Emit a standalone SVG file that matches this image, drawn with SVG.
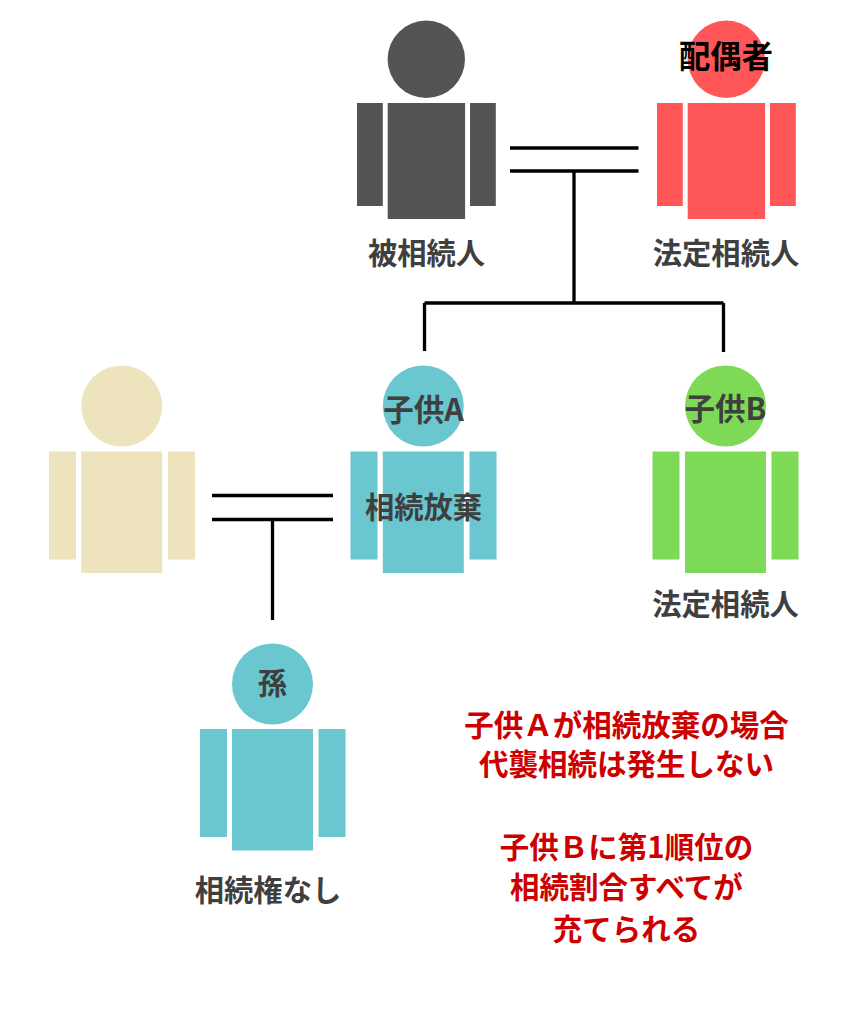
<svg xmlns="http://www.w3.org/2000/svg" width="853" height="1024" viewBox="0 0 853 1024">
<style>
text{font-family:"Noto Sans CJK JP","Noto Sans",sans-serif;font-weight:700;text-anchor:middle;font-size:29.3px;fill:#3f3f3f}
.k{fill:#000;font-size:31.300px}.h{font-size:30.500px}.g{font-size:29.300px}.r{fill:#cc0000;font-size:29.500px}
.c{fill:none;stroke:#000;stroke-width:3.300}
.dark{fill:#545454}.red{fill:#ff5757}.tan{fill:#ede4bd}.teal{fill:#6ac6cf}.green{fill:#7ed957}
</style>
<rect width="853" height="1024" fill="#fff"/>
<g id="connectors" class="c">
<path d="M510 148H638.500M510 171H638.500M574 171V303M424.500 303H723.500M424.500 303V351M723.500 303V352"/>
<path d="M212 495.500H333M212 519.500H333M272.500 519.500V620"/>
</g>
<g id="deceased" class="dark">
<circle cx="426.300" cy="59.300" r="38.700"/><rect x="387.700" y="103" width="77.400" height="116"/><rect x="357" y="103" width="25.800" height="103"/><rect x="470" y="103" width="25.800" height="103"/>
<text x="426.500" y="264">被相続人</text>
</g>
<g id="spouse" class="red">
<circle cx="726.300" cy="59.300" r="38.700"/><rect x="687.700" y="103" width="77.400" height="116"/><rect x="657" y="103" width="25.800" height="103"/><rect x="770" y="103" width="25.800" height="103"/>
<text class="k" x="726" y="68">配偶者</text>
<text x="726" y="264">法定相続人</text>
</g>
<g id="child-spouse" class="tan">
<circle cx="121.700" cy="406" r="40.500"/><rect x="81.200" y="451.500" width="81" height="121.500"/><rect x="49" y="451.500" width="27" height="108"/><rect x="168" y="451.500" width="27" height="108"/>
</g>
<g id="child-a" class="teal">
<circle cx="423.300" cy="406" r="40.500"/><rect x="382.800" y="451.500" width="81" height="121.500"/><rect x="350.500" y="451.500" width="27" height="108"/><rect x="469.500" y="451.500" width="27" height="108"/>
<text class="h" x="423.500" y="421">子供A</text>
<text x="423.500" y="518">相続放棄</text>
</g>
<g id="child-b" class="green">
<circle cx="725.500" cy="406" r="40.500"/><rect x="685" y="451.500" width="81" height="121.500"/><rect x="652.500" y="451.500" width="27" height="108"/><rect x="771.500" y="451.500" width="27" height="108"/>
<text class="h" x="725.500" y="420">子供B</text>
<text x="725.500" y="615">法定相続人</text>
</g>
<g id="grandchild" class="teal">
<circle cx="272.500" cy="684" r="40.500"/><rect x="232" y="729" width="81" height="121.500"/><rect x="200" y="729" width="27" height="108"/><rect x="318.500" y="729" width="27" height="108"/>
<text class="g" x="272.500" y="694">孫</text>
<text x="268" y="901">相続権なし</text>
</g>
<g id="note">
<text class="r" x="626.500" y="736">子供Ａが相続放棄の場合</text>
<text class="r" x="626.500" y="775">代襲相続は発生しない</text>
<text class="r" x="626.500" y="858">子供Ｂに第1順位の</text>
<text class="r" x="626.500" y="898">相続割合すべてが</text>
<text class="r" x="626.500" y="940">充てられる</text>
</g>
</svg>
